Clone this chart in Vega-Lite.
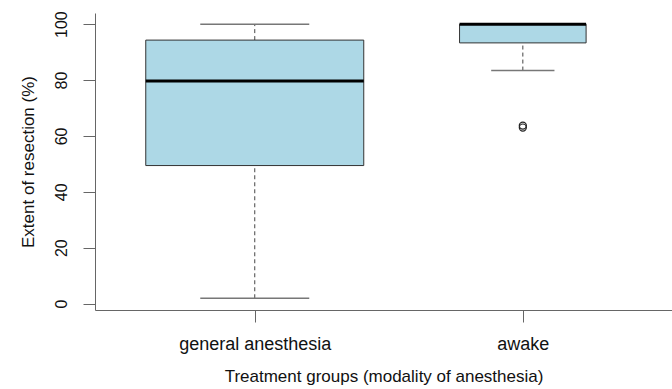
{
  "$schema": "https://vega.github.io/schema/vega-lite/v6.json",
  "width": 577,
  "height": 297,
  "autosize": "none",
  "padding": {"left": 95, "top": 13, "right": 0, "bottom": 79},
  "config": {
    "view": {"stroke": null},
    "font": "Liberation Sans",
    "axis": {"grid": false, "domainColor": "#666", "tickColor": "#666", "labelColor": "#111", "titleColor": "#111", "titleFontWeight": "normal"}
  },
  "datasets": {
    "boxes": [
      {"group": "general anesthesia", "pos": 1, "n": 92, "lower": 1.9, "q1": 49.4, "median": 79.7, "q3": 94.3, "upper": 100},
      {"group": "awake", "pos": 2, "n": 31, "lower": 83.4, "q1": 93.3, "median": 100, "q3": 100, "upper": 100}
    ],
    "outliers": [
      {"group": "awake", "pos": 2, "value": 63.7},
      {"group": "awake", "pos": 2, "value": 63.0}
    ]
  },
  "resolve": {"scale": {"size": "independent"}},
  "layer": [
    {
      "mark": {"type": "rule", "color": "#666", "strokeWidth": 1},
      "encoding": {"y": {"datum": 104, "type": "quantitative", "scale": {"domain": [-2.3, 104], "nice": false, "zero": false}}}
    },
    {
      "data": {"name": "boxes"},
      "mark": {"type": "rule", "color": "#444", "strokeDash": [4, 3], "strokeWidth": 1},
      "encoding": {
        "x": {"field": "pos", "type": "quantitative"},
        "y": {"field": "q3", "type": "quantitative"},
        "y2": {"field": "upper"}
      }
    },
    {
      "data": {"name": "boxes"},
      "mark": {"type": "rule", "color": "#444", "strokeDash": [4, 3], "strokeWidth": 1},
      "encoding": {
        "x": {"field": "pos", "type": "quantitative"},
        "y": {"field": "lower", "type": "quantitative"},
        "y2": {"field": "q1"}
      }
    },
    {
      "data": {"name": "boxes"},
      "mark": {"type": "tick", "orient": "horizontal", "color": "#777", "thickness": 1.5, "opacity": 1},
      "encoding": {
        "x": {"field": "pos", "type": "quantitative"},
        "y": {"field": "upper", "type": "quantitative"},
        "size": {"field": "n", "type": "quantitative", "scale": {"type": "sqrt", "domain": [0, 92], "range": [0, 109]}, "legend": null}
      }
    },
    {
      "data": {"name": "boxes"},
      "mark": {"type": "tick", "orient": "horizontal", "color": "#777", "thickness": 1.5, "opacity": 1},
      "encoding": {
        "x": {"field": "pos", "type": "quantitative"},
        "y": {"field": "lower", "type": "quantitative"},
        "size": {"field": "n", "type": "quantitative", "scale": {"type": "sqrt", "domain": [0, 92], "range": [0, 109]}, "legend": null}
      }
    },
    {
      "data": {"name": "boxes"},
      "mark": {"type": "bar", "fill": "#ADD8E6", "stroke": "#333", "strokeWidth": 1, "opacity": 1},
      "encoding": {
        "x": {
          "field": "pos", "type": "quantitative",
          "scale": {"domain": [0.4227, 2.5378], "nice": false, "zero": false},
          "axis": {
            "values": [1, 2],
            "labelExpr": "datum.value == 1 ? 'general anesthesia' : 'awake'",
            "title": "Treatment groups (modality of anesthesia)",
            "tickSize": 12, "labelFontSize": 18, "titleFontSize": 17,
            "labelPadding": 13, "titlePadding": 15, "labelFlush": false
          }
        },
        "y": {
          "field": "q1", "type": "quantitative",
          "axis": {
            "values": [0, 20, 40, 60, 80, 100],
            "title": "Extent of resection (%)",
            "tickSize": 12, "labelFontSize": 16, "titleFontSize": 17,
            "labelAngle": -90, "labelAlign": "center", "labelBaseline": "bottom",
            "labelPadding": 14, "titlePadding": 16
          }
        },
        "y2": {"field": "q3"},
        "size": {"field": "n", "type": "quantitative", "scale": {"type": "sqrt", "domain": [0, 92], "range": [0, 218]}, "legend": null}
      }
    },
    {
      "data": {"name": "boxes"},
      "mark": {"type": "tick", "orient": "horizontal", "color": "#000", "thickness": 3, "opacity": 1},
      "encoding": {
        "x": {"field": "pos", "type": "quantitative"},
        "y": {"field": "median", "type": "quantitative"},
        "size": {"field": "n", "type": "quantitative", "scale": {"type": "sqrt", "domain": [0, 92], "range": [0, 218]}, "legend": null}
      }
    },
    {
      "data": {"name": "outliers"},
      "mark": {"type": "point", "shape": "circle", "filled": false, "stroke": "#222", "strokeWidth": 1.2, "size": 50, "opacity": 1},
      "encoding": {
        "x": {"field": "pos", "type": "quantitative"},
        "y": {"field": "value", "type": "quantitative"}
      }
    }
  ]
}
